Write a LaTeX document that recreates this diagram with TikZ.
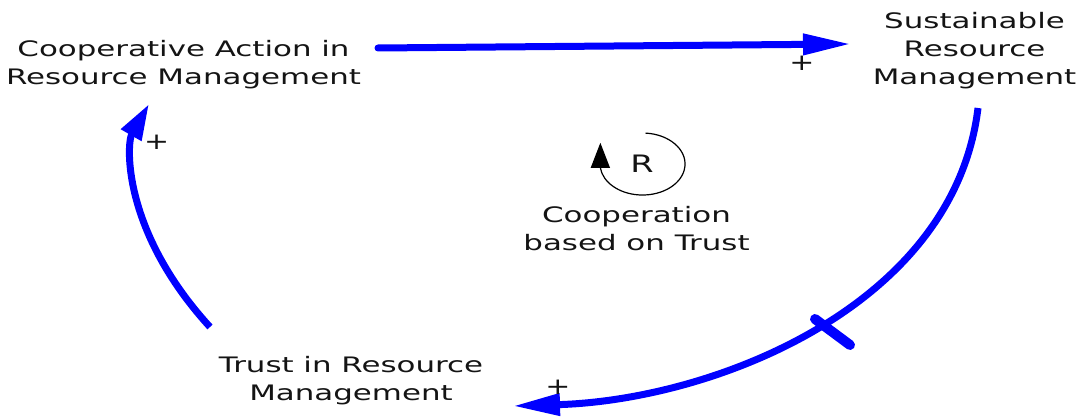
\documentclass[tikz,border=0pt]{standalone}
\usepackage{fontspec}
\usepackage{graphicx}
\setmainfont{DejaVu Sans}
\usetikzlibrary{arrows.meta}
\definecolor{cldblue}{RGB}{0,0,255}
\definecolor{txtcol}{RGB}{20,20,20}
\newcommand{\widetext}[1]{\scalebox{1.45}[1]{\begin{tabular}{@{}c@{}}#1\end{tabular}}}
\newcommand{\polplus}{\scalebox{1.3}[1]{+}}
\begin{document}
\begin{tikzpicture}[x=1pt,y=-1pt,
  var/.style={inner sep=0pt, text=txtcol, font=\fontsize{21.3}{28}\selectfont},
  link/.style={draw=cldblue, line width=7pt},
  pol/.style={inner sep=0pt, text=txtcol, font=\fontsize{23}{23}\selectfont},
  looparrow/.style={draw=black, line width=1.2pt, -{Triangle[length=25pt,width=19pt]}},
]
\useasboundingbox (0,0) rectangle (1078,419);

% variables
\node[var] (carm) at (183.5,65.4) {\widetext{Cooperative Action in\\Resource Management}};
\node[var] (srm)  at (974.5,50.9) {\widetext{Sustainable\\Resource\\Management}};
\node[var] (trm)  at (351,380.4)  {\widetext{Trust in Resource\\Management}};
\node[var] (cbt)  at (636.5,231)  {\widetext{Cooperation\\based on Trust}};

% connector end points
\coordinate (carm-out) at (378,48);
\coordinate (srm-in)   at (851,44);
\coordinate (srm-out)  at (978,108);
\coordinate (trm-in)   at (513,406);
\coordinate (trm-out)  at (210,327);
\coordinate (carm-in)  at (149,104);

% links
\draw[link, line cap=round, -{Triangle[length=48pt,width=20pt]}] (carm-out) -- (srm-in);
\draw[link, -{Triangle[length=47pt,width=21pt]}] (srm-out) .. controls (954,306.6) and (713,400) .. (trm-in);
\draw[link, -{Triangle[length=36pt,width=22pt]}] (trm-out) .. controls (122.2,231.1) and (126.3,143.6) .. (carm-in);

% delay mark
\coordinate (dm1) at (815,319);
\coordinate (dm2) at (850,345);
\draw[cldblue, line width=10pt, line cap=round] (dm1) -- (dm2);

% polarities
\node[pol] (p1) at (802,63.5) {\polplus};
\node[pol] (p2) at (558,387.5) {\polplus};
\node[pol] (p3) at (156.7,142) {\polplus};

% loop identifier
\coordinate (loopstart) at (645.5,133.1);
\draw[looparrow] (loopstart) arc[start angle=-86, end angle=173, x radius=42.5, y radius=31] -- ++(0,-25);
\node[inner sep=0pt, text=txtcol, font=\fontsize{24}{24}\selectfont] (rlab) at (642,164) {\scalebox{1.4}[1]{R}};
\end{tikzpicture}
\end{document}
